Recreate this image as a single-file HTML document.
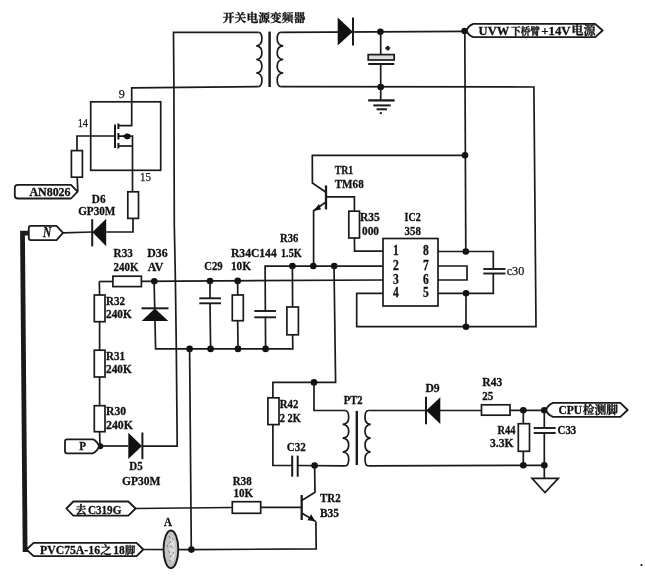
<!DOCTYPE html>
<html><head><meta charset="utf-8"><title>circuit</title>
<style>
html,body{margin:0;padding:0;background:#fff;}
body{width:645px;height:578px;overflow:hidden;font-family:"Liberation Serif","Noto Serif CJK SC",serif;}
svg{display:block}
svg path,svg line{fill:none;stroke:#1a1a1a;stroke-width:1.7;stroke-linecap:butt;stroke-linejoin:miter}
svg .w{fill:#fff;stroke:#1a1a1a;stroke-width:1.7}
svg .lb{stroke-width:1.8;stroke-linejoin:round}
svg .f{fill:#111;stroke:none}
svg text{font-family:"Liberation Serif","Noto Serif CJK SC",serif;font-weight:bold;fill:#111;stroke:#111;stroke-width:0.3}
svg text.r{font-weight:normal;stroke:#1a1a1a;stroke-width:0.25}
</style></head><body>
<svg width="645" height="578" viewBox="0 0 645 578" style="filter:blur(0.45px)">
<rect x="0" y="0" width="645" height="578" fill="#fff" stroke="none"/>
<path d="M258.6 32.3 L173.5 32.3 L173.9 87.0 L174.3 225.0 L175.4 280.0 L176.3 348.0 L177.2 446.1 L142.0 446.1" />
<path d="M258.6 86.6 L131.7 87.8 L131.7 125.7 L118.2 125.7" />
<path d="M258.5 32.3 C261.1 32.3 261.9 34.3 261.9 39.1 C261.9 43.4 259.4 45.6 256.3 45.9 C259.4 46.1 261.9 48.3 261.9 52.7 C261.9 57.0 259.4 59.2 256.3 59.5 C259.4 59.7 261.9 61.9 261.9 66.2 C261.9 70.6 259.4 72.8 256.3 73.0 C259.4 73.3 261.9 75.5 261.9 79.8 C261.9 84.6 261.1 86.6 258.5 86.6"/>
<path d="M269.6 31.6 L269.6 87.0" style="stroke-width:2.5" />
<path d="M280.8 32.3 C278.1 32.3 277.2 34.3 277.2 39.1 C277.2 43.4 279.9 45.6 283.2 45.9 C279.9 46.1 277.2 48.3 277.2 52.7 C277.2 57.0 279.9 59.2 283.2 59.5 C279.9 59.7 277.2 61.9 277.2 66.2 C277.2 70.6 279.9 72.8 283.2 73.0 C279.9 73.3 277.2 75.5 277.2 79.8 C277.2 84.6 278.1 86.6 280.8 86.6"/>
<path d="M280.8 32.3 L466.0 31.3" />
<path d="M280.8 86.6 L533.9 87.0 L536.0 326.7 L356.7 326.7 L356.7 293.3 L383.0 293.3" />
<polygon class="f" points="337.7,17.6 337.7,45.6 352.8,31.8"/>
<path d="M353.0 17.4 L353.0 45.6" style="stroke-width:2.0" />
<circle class="f" cx="380.4" cy="31.7" r="3.3"/>
<circle class="f" cx="380.7" cy="87.0" r="3.3"/>
<path d="M380.7 32.0 L380.7 54.6" />
<rect class="w" x="368.2" y="54.6" width="26.0" height="5.4" style="fill:#ddd"/>
<path d="M368.2 64.0 L394.2 64.0" style="stroke-width:2" />
<path d="M380.7 64.0 L380.7 100.3" />
<path d="M385.4 48.2 L390.0 48.2" style="stroke-width:2.2" />
<path d="M387.7 45.9 L387.7 50.5" style="stroke-width:2.2" />
<path d="M368.2 100.4 L394.6 100.4" style="stroke-width:2.3" />
<path d="M373.3 105.4 L390.7 105.4" style="stroke-width:2.0" />
<path d="M376.6 109.3 L387.0 109.3" style="stroke-width:2.0" />
<path d="M379.8 113.1 L381.8 113.1" style="stroke-width:2.0" />
<circle class="f" cx="464.6" cy="31.0" r="3.3"/>
<path class="w lb" d="M473.4 23.8 L595.2 23.8 L602.6 30.5 L595.2 37.2 L473.4 37.2 Q467.6 35 466.8 30.5 Q467.6 26 473.4 23.8 Z"/>
<path d="M464.8 31.0 L465.8 251.5" />
<circle class="f" cx="465.0" cy="155.3" r="3.3"/>
<circle class="f" cx="465.8" cy="251.5" r="3.3"/>
<path d="M465.0 155.4 L312.3 155.4 L312.4 183.0 L326.0 192.3" />
<path d="M326.0 185.4 L326.0 209.5" style="stroke-width:2.3" />
<path d="M326.0 196.9 L354.4 196.9 L354.4 211.2" />
<path d="M326.0 202.0 L313.6 210.7 L313.6 266.0" />
<polygon class="f" points="313.4,210.9 319.0,203.9 321.0,209.6"/>
<rect class="w" x="348.8" y="211.2" width="10.7" height="26.8" />
<path d="M354.4 238.0 L354.6 251.2 L383.0 251.2" />
<rect class="w" x="383.0" y="238.5" width="55.0" height="67.5" />
<path d="M265.6 348.9 L265.1 266.0 L383.0 266.1" />
<circle class="f" cx="292.4" cy="266.0" r="3.3"/>
<circle class="f" cx="313.3" cy="266.0" r="3.3"/>
<circle class="f" cx="334.2" cy="266.1" r="3.3"/>
<path d="M99.3 281.5 L112.9 281.5" />
<rect class="w" x="112.9" y="276.2" width="28.5" height="10.4" />
<path d="M141.4 281.3 L383.0 280.0" />
<path d="M438.0 251.5 L493.3 251.5 L493.3 269.0" />
<path d="M483.3 269.0 L505.5 269.0" style="stroke-width:1.9" />
<path d="M483.3 273.5 L505.5 273.5" style="stroke-width:1.9" />
<path d="M493.3 273.5 L493.3 293.3 L438.0 293.3" />
<path d="M438.0 266.0 L467.0 266.0 L467.0 280.0 L438.0 280.0" />
<circle class="f" cx="466.0" cy="293.3" r="3.3"/>
<circle class="f" cx="466.0" cy="326.7" r="3.3"/>
<path d="M466.0 293.3 L466.0 326.7" />
<rect class="w" x="90.7" y="101.8" width="70.0" height="68.5" style="fill:none"/>
<path d="M115.0 124.5 L115.0 148.0" style="stroke-width:2.0" />
<path d="M118.4 123.5 L118.4 129.0" style="stroke-width:2.0" />
<path d="M118.4 133.0 L118.4 139.5" style="stroke-width:2.0" />
<path d="M118.4 143.0 L118.4 148.5" style="stroke-width:2.0" />
<path d="M118.2 146.0 L132.5 146.0" />
<path d="M118.2 136.2 L132.5 136.2 L132.5 146.0" />
<polygon class="f" points="122.3,136.3 126.5,133.2 130.2,134.3 130.2,138.4 126.5,139.5"/>
<path d="M132.5 146.0 L132.5 191.8" />
<path d="M115.0 136.0 L77.0 136.0 L77.0 150.6" />
<rect class="w" x="71.4" y="150.6" width="11.0" height="26.6" />
<path d="M77.2 177.2 L77.8 191.2" />
<path class="w lb" d="M17.8 184.9 L71 184.9 L77.6 191.6 L71 198.5 L17.8 198.5 Q14.8 198.5 14.8 195.5 L14.8 187.9 Q14.8 184.9 17.8 184.9 Z"/>
<rect class="w" x="127.8" y="191.8" width="10.7" height="26.6" />
<path d="M133.0 218.4 L133.0 232.0 L106.2 232.0" />
<polygon class="f" points="106.2,218.8 106.2,246.2 92.4,232.3"/>
<path d="M92.2 219.2 L92.2 246.4" style="stroke-width:2.0" />
<path d="M92.3 232.0 L63.0 232.8" />
<path class="w lb" d="M30.8 225.8 L56.5 225.8 L63.0 232.9 L56.5 240.1 L30.8 240.1 Q28.8 240.1 28.8 238.1 L28.8 227.8 Q28.8 225.8 30.8 225.8 Z"/>
<path d="M29.0 233.2 L22.5 233.2 L25.1 549.6 L28.0 549.6" style="stroke-width:4.8" stroke-linejoin="round"/>
<path class="w lb" d="M26.5 549.5 L33.6 542.9 L136.6 542.9 L143.2 549.5 L136.6 556.2 L33.6 556.2 Z"/>
<path d="M143.2 549.5 L191.4 549.6 L316.2 548.9 L315.9 521.5" />
<circle class="f" cx="191.4" cy="549.6" r="3.3"/>
<ellipse cx="170.9" cy="549.3" rx="7.4" ry="18.8" fill="#c2c2c2" stroke="#1a1a1a" stroke-width="1.9"/>
<ellipse cx="172.2" cy="549.2" rx="3.0" ry="13" fill="#dadada" stroke="none"/><path d="M169 536 l1.5 2 M171 541 l-2 2.5 M170 546 l2.5 1.5 M168.5 551 l1.5 2 M171.5 555 l-1.5 2.5 M169.5 560 l1.5 1.5 M172.5 538 l0.8 2 M167.2 545 l0.8 2.4 M173.6 552 l-0.8 2" style="stroke:#777;stroke-width:1"/>
<path d="M99.3 281.5 L99.6 295.0" />
<rect class="w" x="94.3" y="295.0" width="10.7" height="26.7" />
<path d="M99.6 321.7 L99.6 350.2" />
<rect class="w" x="94.3" y="350.2" width="10.7" height="26.8" />
<path d="M99.6 377.0 L99.6 405.7" />
<rect class="w" x="94.3" y="405.7" width="10.7" height="26.0" />
<path d="M99.6 431.7 L100.0 446.0" />
<circle class="f" cx="100.3" cy="446.3" r="3.0"/>
<path class="w lb" d="M67 439.3 L93 439.3 Q97.5 441.5 99 446.3 Q97.5 451 93 453.3 L67 453.3 Q65 453.3 65 451.3 L65 441.3 Q65 439.3 67 439.3 Z"/>
<path d="M100.0 446.0 L128.3 446.0" />
<polygon class="f" points="128.3,432.7 128.3,459.0 142.0,446.0"/>
<path d="M142.4 432.5 L142.4 459.2" style="stroke-width:2.0" />
<circle class="f" cx="154.3" cy="281.2" r="3.3"/>
<path d="M154.1 281.2 L155.6 348.9 L292.8 348.9 L292.6 334.3" />
<polygon class="f" points="141.7,321.0 168.3,321.0 154.8,308.6"/>
<path d="M141.5 308.3 L168.5 308.3" style="stroke-width:2.0" />
<circle class="f" cx="189.6" cy="348.9" r="3.3"/>
<circle class="f" cx="210.6" cy="348.9" r="3.3"/>
<circle class="f" cx="238.0" cy="348.9" r="3.3"/>
<circle class="f" cx="265.6" cy="348.9" r="3.3"/>
<path d="M189.6 348.9 L191.3 549.2" />
<circle class="f" cx="210.0" cy="281.0" r="3.3"/>
<path d="M210.0 281.0 L210.0 298.3" />
<path d="M199.3 298.3 L221.0 298.3" style="stroke-width:1.9" />
<path d="M199.3 303.3 L221.0 303.3" style="stroke-width:1.9" />
<path d="M210.0 303.3 L210.6 348.9" />
<circle class="f" cx="237.7" cy="280.9" r="3.3"/>
<path d="M237.7 281.0 L237.7 295.0" />
<rect class="w" x="232.3" y="295.0" width="11.0" height="25.7" />
<path d="M237.7 320.7 L238.0 348.9" />
<rect x="262" y="311.6" width="6" height="5.2" fill="#fff" stroke="none"/>
<path d="M254.3 311.0 L276.0 311.0" style="stroke-width:1.9" />
<path d="M254.3 317.3 L276.0 317.3" style="stroke-width:1.9" />
<path d="M292.4 266.0 L292.6 307.0" />
<rect class="w" x="286.9" y="307.0" width="11.5" height="27.8" />
<path d="M334.0 266.0 L335.6 382.4 L272.9 382.4 L272.9 397.8" />
<rect class="w" x="267.9" y="397.8" width="11.1" height="26.8" />
<path d="M272.9 424.6 L272.9 465.5 L292.2 465.5" />
<path d="M292.2 455.6 L292.2 476.7" style="stroke-width:2.0" />
<path d="M297.7 455.6 L297.7 476.7" style="stroke-width:2.0" />
<path d="M297.7 465.5 L345.2 465.8" />
<circle class="f" cx="314.0" cy="382.4" r="3.3"/>
<circle class="f" cx="314.6" cy="465.5" r="3.3"/>
<path d="M314.0 382.4 L314.0 410.4 L345.2 410.5" />
<path d="M345.1 410.5 C347.8 410.5 348.7 412.6 348.7 417.4 C348.7 421.8 346.0 424.0 342.7 424.3 C346.0 424.6 348.7 426.8 348.7 431.2 C348.7 435.7 346.0 437.9 342.7 438.1 C346.0 438.4 348.7 440.6 348.7 445.1 C348.7 449.5 346.0 451.7 342.7 452.0 C346.0 452.3 348.7 454.5 348.7 458.9 C348.7 463.7 347.8 465.8 345.1 465.8"/>
<path d="M356.8 410.9 L356.8 465.0" style="stroke-width:2.4" />
<path d="M368.4 410.5 C365.8 410.5 365.0 412.6 365.0 417.4 C365.0 421.8 367.5 424.0 370.6 424.3 C367.5 424.6 365.0 426.8 365.0 431.2 C365.0 435.7 367.5 437.9 370.6 438.1 C367.5 438.4 365.0 440.6 365.0 445.1 C365.0 449.5 367.5 451.7 370.6 452.0 C367.5 452.3 365.0 454.5 365.0 458.9 C365.0 463.7 365.8 465.8 368.4 465.8"/>
<path d="M368.3 410.5 L426.0 410.5" />
<path d="M426.0 396.8 L426.0 424.2" style="stroke-width:2.0" />
<polygon class="f" points="440.3,397.2 440.3,424.0 426.2,410.6"/>
<path d="M440.0 410.5 L481.5 410.5" />
<rect class="w" x="481.5" y="404.8" width="28.5" height="10.4" />
<path d="M510.0 410.3 L546.3 410.3" />
<path d="M368.3 465.8 L544.3 465.3" />
<circle class="f" cx="523.3" cy="410.3" r="3.3"/>
<circle class="f" cx="544.3" cy="410.3" r="3.3"/>
<circle class="f" cx="523.3" cy="465.3" r="3.3"/>
<circle class="f" cx="544.3" cy="465.3" r="3.3"/>
<path d="M523.3 410.3 L523.3 423.7" />
<rect class="w" x="518.3" y="423.7" width="11.2" height="27.6" />
<path d="M523.3 451.3 L523.3 465.3" />
<path d="M544.3 410.3 L544.3 428.0" />
<path d="M533.7 428.0 L555.7 428.0" style="stroke-width:1.9" />
<path d="M533.7 433.0 L555.7 433.0" style="stroke-width:1.9" />
<path d="M544.3 433.0 L544.3 478.3" />
<polygon class="w" points="532.0,478.3 558.3,478.3 545.0,492.5"/>
<path class="w lb" d="M553 402.8 L620.3 402.8 L627.7 410 L620.3 416.8 L553 416.8 Q547.2 414.6 546.3 410 Q547.2 405 553 402.8 Z"/>
<path d="M314.6 465.5 L315.0 492.3 L301.7 500.5" />
<path d="M301.7 495.0 L301.7 520.0" style="stroke-width:2.3" />
<path d="M301.7 513.0 L315.7 521.5" />
<polygon class="f" points="315.2,521.2 307.5,520.3 311.2,514.3"/>
<path class="w lb" d="M66.4 508.5 L73.3 501.5 L128.3 501.5 L135.6 508.5 L128.3 515.7 L73.3 515.7 Z"/>
<path d="M135.6 508.5 L232.3 507.5" />
<rect class="w" x="232.3" y="501.7" width="28.4" height="11.6" />
<path d="M260.7 507.4 L301.7 507.4" />
<circle class="f" cx="641.5" cy="565.0" r="1.1"/>
<text x="222.8" y="22.2" font-size="11.2" text-anchor="start" textLength="82.6" lengthAdjust="spacingAndGlyphs">开关电源变频器</text>
<text x="478.6" y="34.6" font-size="12.88" text-anchor="start"  textLength="30.7" lengthAdjust="spacingAndGlyphs">UVW</text>
<text x="511.0" y="34.7" font-size="10.75" text-anchor="start" textLength="29.0" lengthAdjust="spacingAndGlyphs">下桥臂</text>
<text x="541.3" y="34.6" font-size="12.88" text-anchor="start"  textLength="29.2" lengthAdjust="spacingAndGlyphs">+14V</text>
<text x="571.6" y="35.0" font-size="12" text-anchor="start" textLength="24.0" lengthAdjust="spacingAndGlyphs">电源</text>
<text x="121.7" y="98.2" font-size="12.00" text-anchor="middle" class="r" textLength="6.0" lengthAdjust="spacingAndGlyphs">9</text>
<text x="77.7" y="126.8" font-size="12.00" text-anchor="start" class="r" textLength="10.3" lengthAdjust="spacingAndGlyphs">14</text>
<text x="140.0" y="181.4" font-size="12.00" text-anchor="start" class="r" textLength="11.0" lengthAdjust="spacingAndGlyphs">15</text>
<text x="29.4" y="196.1" font-size="12.36" text-anchor="start"  textLength="41.2" lengthAdjust="spacingAndGlyphs">AN8026</text>
<text x="91.8" y="203.0" font-size="12.98" text-anchor="start"  textLength="13.7" lengthAdjust="spacingAndGlyphs">D6</text>
<text x="78.2" y="215.0" font-size="12.98" text-anchor="start"  textLength="37.2" lengthAdjust="spacingAndGlyphs">GP30M</text>
<text x="47.2" y="236.8" font-size="13.57" text-anchor="middle" font-style="italic" textLength="8.3" lengthAdjust="spacingAndGlyphs">N</text>
<text x="113.6" y="257.3" font-size="12.98" text-anchor="start"  textLength="19.2" lengthAdjust="spacingAndGlyphs">R33</text>
<text x="113.6" y="271.2" font-size="12.98" text-anchor="start"  textLength="24.9" lengthAdjust="spacingAndGlyphs">240K</text>
<text x="147.3" y="257.3" font-size="12.98" text-anchor="start"  textLength="20.4" lengthAdjust="spacingAndGlyphs">D36</text>
<text x="147.7" y="271.2" font-size="12.98" text-anchor="start"  textLength="15.6" lengthAdjust="spacingAndGlyphs">AV</text>
<text x="204.3" y="270.4" font-size="12.98" text-anchor="start"  textLength="18.4" lengthAdjust="spacingAndGlyphs">C29</text>
<text x="231.0" y="256.7" font-size="12.98" text-anchor="start"  textLength="45.7" lengthAdjust="spacingAndGlyphs">R34C144</text>
<text x="281.0" y="256.7" font-size="12.98" text-anchor="start"  textLength="20.7" lengthAdjust="spacingAndGlyphs">1.5K</text>
<text x="231.0" y="270.4" font-size="12.98" text-anchor="start"  textLength="20.0" lengthAdjust="spacingAndGlyphs">10K</text>
<text x="280.0" y="242.3" font-size="12.98" text-anchor="start"  textLength="18.3" lengthAdjust="spacingAndGlyphs">R36</text>
<text x="334.7" y="174.0" font-size="12.98" text-anchor="start"  textLength="18.6" lengthAdjust="spacingAndGlyphs">TR1</text>
<text x="334.7" y="187.7" font-size="12.98" text-anchor="start"  textLength="29.0" lengthAdjust="spacingAndGlyphs">TM68</text>
<text x="360.0" y="221.4" font-size="12.98" text-anchor="start"  textLength="19.8" lengthAdjust="spacingAndGlyphs">R35</text>
<text x="362.0" y="234.7" font-size="12.98" text-anchor="start"  textLength="17.0" lengthAdjust="spacingAndGlyphs">000</text>
<text x="404.6" y="221.4" font-size="12.98" text-anchor="start"  textLength="16.2" lengthAdjust="spacingAndGlyphs">IC2</text>
<text x="404.6" y="234.7" font-size="12.98" text-anchor="start"  textLength="16.2" lengthAdjust="spacingAndGlyphs">358</text>
<text x="396.0" y="255.3" font-size="13.57" text-anchor="middle"  textLength="5.8" lengthAdjust="spacingAndGlyphs">1</text>
<text x="426.0" y="255.3" font-size="13.57" text-anchor="middle"  textLength="5.8" lengthAdjust="spacingAndGlyphs">8</text>
<text x="396.0" y="270.0" font-size="13.57" text-anchor="middle"  textLength="5.8" lengthAdjust="spacingAndGlyphs">2</text>
<text x="426.0" y="270.0" font-size="13.57" text-anchor="middle"  textLength="5.8" lengthAdjust="spacingAndGlyphs">7</text>
<text x="396.0" y="283.5" font-size="13.57" text-anchor="middle"  textLength="5.8" lengthAdjust="spacingAndGlyphs">3</text>
<text x="426.0" y="283.5" font-size="13.57" text-anchor="middle"  textLength="5.8" lengthAdjust="spacingAndGlyphs">6</text>
<text x="396.0" y="297.3" font-size="13.57" text-anchor="middle"  textLength="5.8" lengthAdjust="spacingAndGlyphs">4</text>
<text x="426.0" y="297.3" font-size="13.57" text-anchor="middle"  textLength="5.8" lengthAdjust="spacingAndGlyphs">5</text>
<text x="506.7" y="274.5" font-size="11.85" text-anchor="start" class="r" textLength="17.6" lengthAdjust="spacingAndGlyphs">c30</text>
<text x="106.0" y="305.4" font-size="12.98" text-anchor="start"  textLength="19.0" lengthAdjust="spacingAndGlyphs">R32</text>
<text x="106.0" y="318.0" font-size="12.98" text-anchor="start"  textLength="25.7" lengthAdjust="spacingAndGlyphs">240K</text>
<text x="106.0" y="360.3" font-size="12.98" text-anchor="start"  textLength="19.0" lengthAdjust="spacingAndGlyphs">R31</text>
<text x="106.0" y="373.4" font-size="12.98" text-anchor="start"  textLength="25.7" lengthAdjust="spacingAndGlyphs">240K</text>
<text x="106.0" y="414.7" font-size="12.98" text-anchor="start"  textLength="20.0" lengthAdjust="spacingAndGlyphs">R30</text>
<text x="106.0" y="428.7" font-size="12.98" text-anchor="start"  textLength="27.0" lengthAdjust="spacingAndGlyphs">240K</text>
<text x="82.7" y="450.2" font-size="12.98" text-anchor="middle"  textLength="6.7" lengthAdjust="spacingAndGlyphs">P</text>
<text x="136.0" y="470.4" font-size="12.98" text-anchor="middle"  textLength="13.4" lengthAdjust="spacingAndGlyphs">D5</text>
<text x="122.0" y="484.9" font-size="12.98" text-anchor="start"  textLength="38.5" lengthAdjust="spacingAndGlyphs">GP30M</text>
<text x="75.6" y="513.6" font-size="11" text-anchor="start">去</text>
<text x="87.9" y="513.7" font-size="12.88" text-anchor="start"  textLength="33.5" lengthAdjust="spacingAndGlyphs">C319G</text>
<text x="40.0" y="554.2" font-size="12.60" text-anchor="start"  textLength="60.0" lengthAdjust="spacingAndGlyphs">PVC75A-16</text>
<text x="100.6" y="554.2" font-size="11" text-anchor="start">之</text>
<text x="113.3" y="554.2" font-size="12.60" text-anchor="start"  textLength="11.4" lengthAdjust="spacingAndGlyphs">18</text>
<text x="125.0" y="554.2" font-size="10.4" text-anchor="start">脚</text>
<text x="167.9" y="525.5" font-size="12.98" text-anchor="middle"  textLength="7.9" lengthAdjust="spacingAndGlyphs">A</text>
<text x="242.3" y="484.7" font-size="12.98" text-anchor="middle"  textLength="18.9" lengthAdjust="spacingAndGlyphs">R38</text>
<text x="243.3" y="497.0" font-size="12.98" text-anchor="middle"  textLength="19.6" lengthAdjust="spacingAndGlyphs">10K</text>
<text x="320.0" y="502.4" font-size="12.98" text-anchor="start"  textLength="20.7" lengthAdjust="spacingAndGlyphs">TR2</text>
<text x="320.0" y="516.6" font-size="12.98" text-anchor="start"  textLength="19.0" lengthAdjust="spacingAndGlyphs">B35</text>
<text x="279.8" y="408.4" font-size="12.98" text-anchor="start"  textLength="18.6" lengthAdjust="spacingAndGlyphs">R42</text>
<text x="279.8" y="422.1" font-size="12.98" text-anchor="start"  textLength="21.1" lengthAdjust="spacingAndGlyphs">2 2K</text>
<text x="286.8" y="451.0" font-size="12.98" text-anchor="start"  textLength="19.1" lengthAdjust="spacingAndGlyphs">C32</text>
<text x="343.7" y="403.8" font-size="12.98" text-anchor="start"  textLength="18.9" lengthAdjust="spacingAndGlyphs">PT2</text>
<text x="425.4" y="392.4" font-size="12.98" text-anchor="start"  textLength="14.3" lengthAdjust="spacingAndGlyphs">D9</text>
<text x="482.3" y="386.4" font-size="12.98" text-anchor="start"  textLength="20.0" lengthAdjust="spacingAndGlyphs">R43</text>
<text x="482.3" y="399.7" font-size="12.98" text-anchor="start"  textLength="11.0" lengthAdjust="spacingAndGlyphs">25</text>
<text x="497.5" y="433.7" font-size="12.98" text-anchor="start"  textLength="18.0" lengthAdjust="spacingAndGlyphs">R44</text>
<text x="490.0" y="447.4" font-size="12.98" text-anchor="start"  textLength="23.7" lengthAdjust="spacingAndGlyphs">3.3K</text>
<text x="557.5" y="433.7" font-size="12.98" text-anchor="start"  textLength="18.8" lengthAdjust="spacingAndGlyphs">C33</text>
<text x="558.4" y="414.1" font-size="12.36" text-anchor="start"  textLength="23.6" lengthAdjust="spacingAndGlyphs">CPU</text>
<text x="582.8" y="414.3" font-size="11.4" text-anchor="start" textLength="35.2" lengthAdjust="spacingAndGlyphs">检测脚</text>
</svg>
</body></html>
